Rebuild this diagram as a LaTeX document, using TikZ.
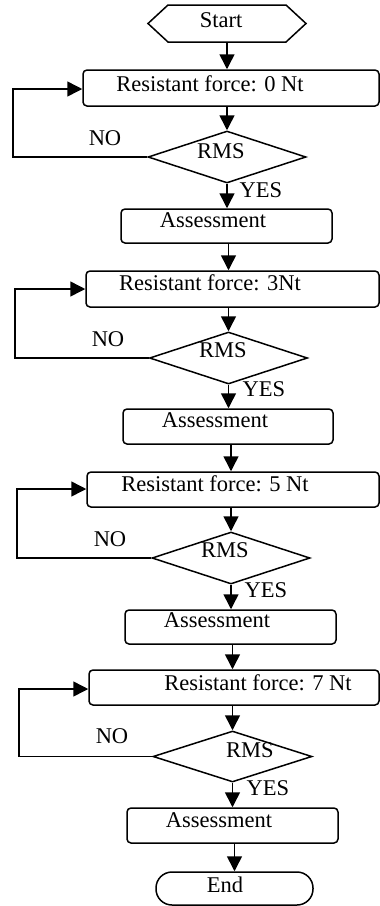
\documentclass[tikz,border=0pt]{standalone}
\usepackage{fontspec}
\setmainfont{Liberation Serif}
\usetikzlibrary{arrows.meta,shapes.geometric}
\begin{document}
\begin{tikzpicture}[x=1pt,y=-1pt,
  ln/.style={line width=1.5pt},
  arr/.style={ln,-{Triangle[width=15pt,length=15pt]}},
  boxnode/.style={draw,ln,rectangle,rounded corners=4pt,inner sep=0pt},
  dia/.style={draw,ln,diamond,inner sep=0pt,minimum width=158pt,minimum height=52pt},
  txt/.style={inner sep=0pt,anchor=base,font=\fontsize{22.5}{26}\selectfont}]
\useasboundingbox (0,0) rectangle (380,906);
% Start
\draw[ln] (148,23.5) -- (168,5) -- (286,5) -- (306,23.5) -- (286,42) -- (168,42) -- cycle;
\node[inner sep=0pt,minimum width=158pt,minimum height=37pt] (start) at (227,23.5) {};
\node[txt] (tstart) at (221,27) {Start};
% Block 1
\node[boxnode,minimum width=296pt,minimum height=36pt] (b1) at (231,88) {};
\node[txt] (tb1) at (210,91) {Resistant force: 0 Nt};
\node[dia] (d1) at (227,157) {};
\node[txt] (r1) at (221,158) {RMS};
\node[txt] (n1) at (105,145) {NO};
\node[txt] (y1) at (261,197) {YES};
\node[boxnode,minimum width=211pt,minimum height=34pt] (a1) at (226.5,226) {};
\node[txt] (ta1) at (213,227) {Assessment};
\coordinate (l1) at (13,89);
% Block 2
\node[boxnode,minimum width=293pt,minimum height=36pt] (b2) at (232.5,289) {};
\node[txt] (tb2) at (210,290) {Resistant force: 3Nt};
\node[dia] (d2) at (228.5,358) {};
\node[txt] (r2) at (223,357) {RMS};
\node[txt] (n2) at (108,346) {NO};
\node[txt] (y2) at (264,396) {YES};
\node[boxnode,minimum width=210pt,minimum height=35pt] (a2) at (228,426.5) {};
\node[txt] (ta2) at (215,427) {Assessment};
\coordinate (l2) at (15,289);
% Block 3
\node[boxnode,minimum width=292pt,minimum height=35pt] (b3) at (233,489.5) {};
\node[txt] (tb3) at (215,491) {Resistant force: 5 Nt};
\node[dia] (d3) at (231,558) {};
\node[txt] (r3) at (225,557) {RMS};
\node[txt] (n3) at (110,546) {NO};
\node[txt] (y3) at (266,597) {YES};
\node[boxnode,minimum width=211pt,minimum height=34pt] (a3) at (230.5,627) {};
\node[txt] (ta3) at (217,627) {Assessment};
\coordinate (l3) at (17,489);
% Block 4
\node[boxnode,minimum width=290pt,minimum height=35pt] (b4) at (234,687.5) {};
\node[txt] (tb4) at (258,690) {Resistant force: 7 Nt};
\node[dia,minimum width=159pt,minimum height=51pt] (d4) at (232.5,756.5) {};
\node[txt] (r4) at (250,757) {RMS};
\node[txt] (n4) at (112,743) {NO};
\node[txt] (y4) at (268,795) {YES};
\node[boxnode,minimum width=211pt,minimum height=35pt] (a4) at (232.5,825.5) {};
\node[txt] (ta4) at (219,827) {Assessment};
\coordinate (l4) at (19,689);
% End
\node[draw,ln,rectangle,rounded corners=16pt,inner sep=0pt,minimum width=157pt,minimum height=33pt] (end) at (234.5,888.5) {};
\node[txt] (tend) at (225,892) {End};
% Connectors
\draw[arr] (start.south -| d1.north) -- (b1.north -| d1.north);
\draw[arr] (b1.south -| d1.north) -- (d1.north);
\draw[arr] (d1.south) -- (a1.north -| d1.south);
\draw[arr] (d1.west) -| (l1) -- (l1 -| b1.west);
\draw[arr] (a1.south -| d2.north) -- (b2.north -| d2.north);
\draw[arr] (b2.south -| d2.north) -- (d2.north);
\draw[arr] (d2.south) -- (a2.north -| d2.south);
\draw[arr] (d2.west) -| (l2) -- (l2 -| b2.west);
\draw[arr] (a2.south -| d3.north) -- (b3.north -| d3.north);
\draw[arr] (b3.south -| d3.north) -- (d3.north);
\draw[arr] (d3.south) -- (a3.north -| d3.south);
\draw[arr] (d3.west) -| (l3) -- (l3 -| b3.west);
\draw[arr] (a3.south -| d4.north) -- (b4.north -| d4.north);
\draw[arr] (b4.south -| d4.north) -- (d4.north);
\draw[arr] (d4.south) -- (a4.north -| d4.south);
\draw[arr] (d4.west) -| (l4) -- (l4 -| b4.west);
\draw[arr] (a4.south -| end.north) -- (end.north);
\end{tikzpicture}
\end{document}
